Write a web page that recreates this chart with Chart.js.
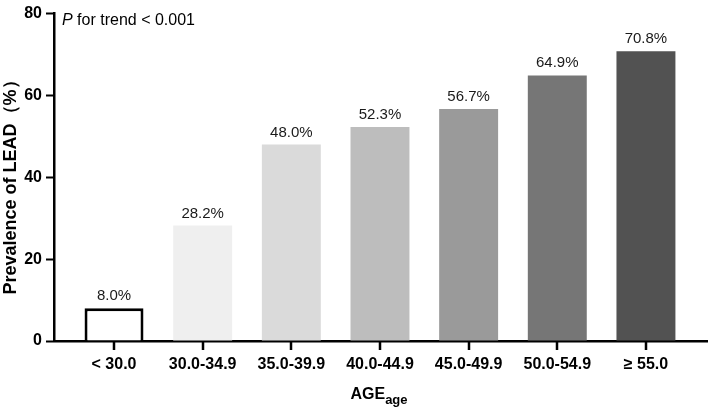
<!DOCTYPE html>
<html>
<head>
<meta charset="utf-8">
<script src="https://cdn.jsdelivr.net/npm/chart.js@4/dist/chart.umd.min.js"></script>
<style>
  body { margin: 0; background: #fff; }
  canvas { display: block; }
</style>
</head>
<body>
<canvas id="myChart" width="708" height="408"></canvas>
<script>
// age groups and prevalence (%)
const categories = ['< 30.0', '30.0-34.9', '35.0-39.9', '40.0-44.9', '45.0-49.9', '50.0-54.9', '≥ 55.0'];
const prevalence = [8.0, 28.2, 48.0, 52.3, 56.7, 64.9, 70.8];
const valueLabels = ['8.0%', '28.2%', '48.0%', '52.3%', '56.7%', '64.9%', '70.8%'];
const yTicks = [0, 20, 40, 60, 80];

const barColors = ['#ffffff', '#efefef', '#dadada', '#bdbdbd', '#9a9a9a', '#767676', '#525252'];
const barBorders = [3, 0, 0, 0, 0, 0, 0];

const FONT = "Arial, 'Liberation Sans', sans-serif";

const annotations = {
    id: 'annotations',
    beforeDraw: (chart) => {
        const ctx = chart.ctx;
        ctx.save();
        ctx.fillStyle = 'white';
        ctx.fillRect(0, 0, chart.width, chart.height);
        ctx.restore();
    },
    afterDraw: (chart) => {
        const ctx = chart.ctx;
        const meta = chart.getDatasetMeta(0);
        ctx.save();
        ctx.setLineDash([]);

        // tick marks under the x axis, one below each bar centre
        ctx.strokeStyle = '#000000';
        ctx.lineWidth = 2.5;
        ctx.beginPath();
        meta.data.forEach((bar) => {
            const px = Math.round(bar.x);
            const base = Math.round(bar.base);
            ctx.moveTo(px, base);
            ctx.lineTo(px, base + 9);
        });
        ctx.stroke();

        // value labels above bars
        ctx.font = '15px ' + FONT;
        ctx.fillStyle = '#1a1a1a';
        ctx.textAlign = 'center';
        ctx.textBaseline = 'alphabetic';
        meta.data.forEach((bar, i) => {
            ctx.fillText(valueLabels[i], bar.x, bar.y - 8);
        });

        // P for trend
        ctx.textAlign = 'left';
        ctx.fillStyle = '#000';
        ctx.font = 'italic 16px ' + FONT;
        ctx.fillText('P', 62, 25);
        const pw = ctx.measureText('P').width;
        ctx.font = '16px ' + FONT;
        ctx.fillText(' for trend < 0.001', 62 + pw, 25);

        // x axis title with subscript
        ctx.font = 'bold 16px ' + FONT;
        const w1 = ctx.measureText('AGE').width;
        ctx.font = 'bold 13px ' + FONT;
        const w2 = ctx.measureText('age').width;
        const startX = 379 - (w1 + w2) / 2;
        ctx.font = 'bold 16px ' + FONT;
        ctx.fillText('AGE', startX, 399);
        ctx.font = 'bold 13px ' + FONT;
        ctx.fillText('age', startX + w1, 404);

        // y axis title
        ctx.translate(11, 183);
        ctx.rotate(-Math.PI / 2);
        ctx.textAlign = 'center';
        ctx.textBaseline = 'middle';
        ctx.font = 'bold 18px ' + FONT;
        ctx.fillText('Prevalence of LEAD（%）', 0, 0);
        ctx.restore();
    }
};

const configuration = {
    type: 'bar',
    data: {
        datasets: [{
            data: prevalence.map((v, i) => ({ x: i, y: v })),
            backgroundColor: barColors,
            borderColor: '#000',
            borderWidth: barBorders,
            borderSkipped: 'start',
            categoryPercentage: 1,
            barPercentage: 0.665
        }]
    },
    options: {
        responsive: false,
        animation: false,
        layout: { padding: { top: 8, right: 0, left: 0, bottom: 0 } },
        plugins: {
            legend: { display: false },
            tooltip: { enabled: false }
        },
        scales: {
            x: {
                type: 'linear',
                offset: false,
                min: -0.677,
                max: 6.7,
                afterBuildTicks: (scale) => {
                    scale.ticks = categories.map((c, i) => ({ value: i }));
                },
                afterFit: (scale) => { scale.height = 67; },
                grid: { display: false },
                border: { display: true, color: '#000', width: 2.5 },
                ticks: {
                    autoSkip: false,
                    maxRotation: 0,
                    padding: 6,
                    color: '#000',
                    font: { family: FONT, size: 16, weight: 'bold' },
                    callback: (value) => categories[value]
                }
            },
            y: {
                min: 0,
                max: 80,
                afterBuildTicks: (scale) => {
                    scale.ticks = yTicks.map(v => ({ value: v }));
                },
                afterFit: (scale) => { scale.width = 54; },
                grid: {
                    display: true,
                    drawOnChartArea: false,
                    drawTicks: true,
                    tickLength: 8,
                    tickWidth: 2,
                    tickColor: '#000'
                },
                border: { display: true, color: '#000', width: 2.5 },
                ticks: {
                    padding: 4,
                    color: '#000',
                    font: { family: FONT, size: 16, weight: 'bold' }
                }
            }
        }
    },
    plugins: [annotations]
};

const myChartInstance = new Chart(document.getElementById('myChart'), configuration);
</script>
</body>
</html>
